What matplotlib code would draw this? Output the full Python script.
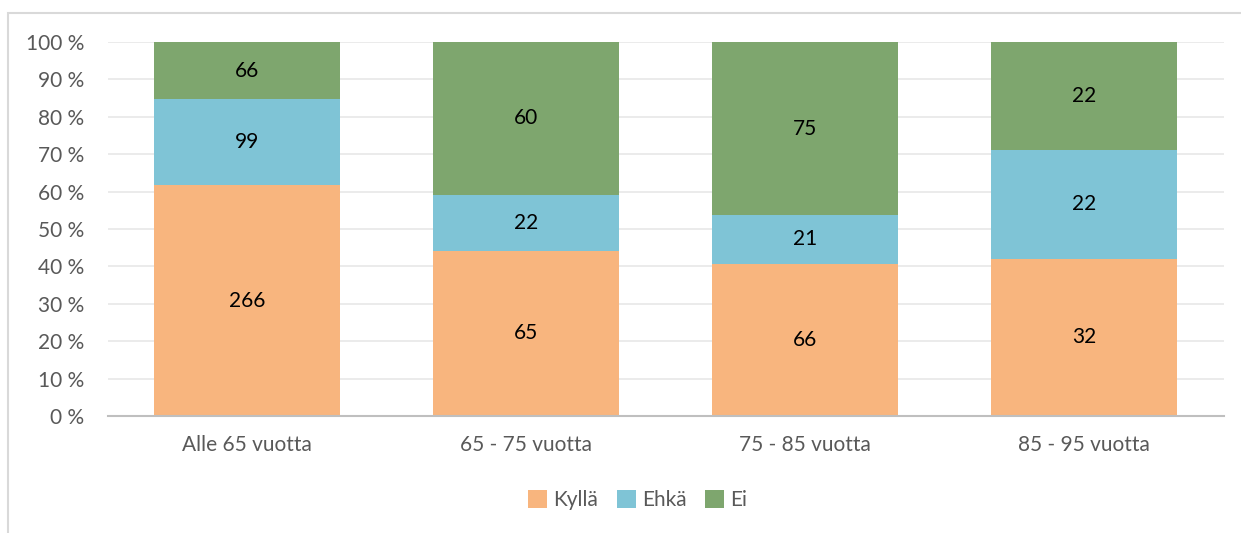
import matplotlib.pyplot as plt
from matplotlib.patches import Rectangle
from matplotlib import font_manager
import numpy as np

# ikaryhmat ja vastausten lukumaarat
categories = ['Alle 65 vuotta', '65 - 75 vuotta', '75 - 85 vuotta', '85 - 95 vuotta']
series_names = ['Kyllä', 'Ehkä', 'Ei']
kylla = [266, 65, 66, 32]
ehka = [99, 22, 21, 22]
ei = [66, 60, 75, 22]

colors = ['#F8B57E', '#7FC4D6', '#7EA66E']

names = {f.name for f in font_manager.fontManager.ttflist}
axis_font = 'Lato' if 'Lato' in names else 'DejaVu Sans'
label_font = 'Lato' if 'Lato' in names else 'DejaVu Sans'

counts = np.array([kylla, ehka, ei], dtype=float)
shares = counts / counts.sum(axis=0) * 100

fig = plt.figure(figsize=(12.41, 5.33), dpi=100)
# ulkoreunus
fig.patches.append(Rectangle((8 / 1241, -0.1), 1.2, (533 - 13) / 533 + 0.1,
                             transform=fig.transFigure, fill=False,
                             edgecolor='#D9D9D9', linewidth=1.5))

ax = fig.add_axes([107.5 / 1241, (533 - 416) / 533, 1116 / 1241, 374 / 533])

x = np.arange(len(categories))
bottom = np.zeros(len(categories))
for i, name in enumerate(series_names):
    ax.bar(x, shares[i], 0.667, bottom=bottom, color=colors[i], label=name, zorder=2)
    for xi, b, h, c in zip(x, bottom, shares[i], counts[i]):
        ax.text(xi, b + h / 2, f'{int(c)}', ha='center', va='center',
                fontsize=15, family=label_font, color='black', zorder=3)
    bottom += shares[i]

ax.set_xlim(-0.5, len(categories) - 0.5)
ax.set_ylim(0, 100)
ax.set_yticks(np.arange(0, 101, 10))
ax.set_yticklabels([f'{v} %' for v in range(0, 101, 10)])
ax.set_xticks(x)
ax.set_xticklabels(categories)

ax.grid(axis='y', color='#E8E8E8', linewidth=1.2, zorder=0)
for s in ['top', 'right', 'left']:
    ax.spines[s].set_visible(False)
ax.spines['bottom'].set_color('#BFBFBF')
ax.spines['bottom'].set_linewidth(1.5)
ax.tick_params(axis='both', length=0, colors='#595959', labelsize=15)
ax.tick_params(axis='x', pad=14)
ax.tick_params(axis='y', pad=17)
for lbl in ax.get_xticklabels() + ax.get_yticklabels():
    lbl.set_family(axis_font)

leg = ax.legend(loc='center', bbox_to_anchor=(0.475, -0.225), ncol=3, frameon=False,
                handlelength=0.9, handleheight=0.9, handletextpad=0.3, columnspacing=0.9,
                prop={'family': axis_font, 'size': 15})
for t in leg.get_texts():
    t.set_color('#595959')

fig.savefig('out.png', dpi=100)
